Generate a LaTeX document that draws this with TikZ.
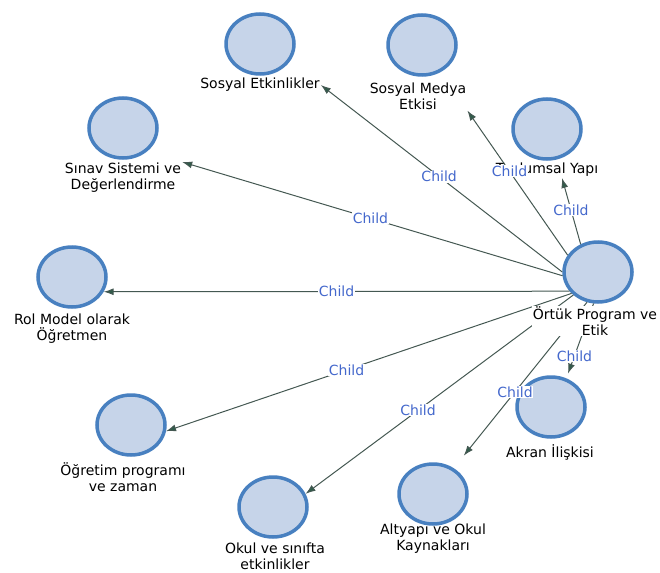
\documentclass[tikz,border=0pt]{standalone}
\usepackage{fontspec}
\setmainfont{DejaVu Sans}
\usetikzlibrary{arrows.meta, shapes.geometric}

\definecolor{bubblefill}{RGB}{198,212,233}
\definecolor{bubbleline}{RGB}{72,128,192}
\definecolor{edgegray}{RGB}{68,88,82}
\definecolor{tipgreen}{RGB}{48,92,74}
\definecolor{childblue}{RGB}{68,104,204}

\begin{document}
\begin{tikzpicture}[x = 1pt, y = -1pt,
	bubble/.style = {ellipse, draw = bubbleline, fill = bubblefill, line width = 3.5pt,
		minimum width = 68pt, minimum height = 60pt, inner sep = 0pt},
	tag/.style = {align = center, text = black, font = \fontsize{14}{16}\selectfont, inner sep = 1pt},
	childedge/.style = {draw = edgegray, line width = 1pt,
		-{Latex[length = 10pt, width = 7pt, fill = tipgreen]}},
	childtag/.style = {fill = white, text = childblue, font = \fontsize{14}{16}\selectfont, inner sep = 0.5pt}]

\useasboundingbox (0, 0) rectangle (660, 572);

	% Bubbles

	\node [bubble] (hub) at (598, 272) {};
	\node [bubble] (se) at (260, 44) {};
	\node [bubble] (sm) at (422, 45) {};
	\node [bubble] (ty) at (547, 129) {};
	\node [bubble] (ss) at (123, 128) {};
	\node [bubble] (rm) at (72, 277) {};
	\node [bubble] (op) at (131, 425) {};
	\node [bubble] (ok) at (273, 507) {};
	\node [bubble] (ao) at (433, 494) {};
	\node [bubble] (ak) at (551, 407) {};

	% Labels

	\node [tag] (selbl) at (260, 85) {Sosyal Etkinlikler};
	\node [tag] (smlbl) at (418, 96) {Sosyal Medya\\Etkisi};
	\node [tag] (tylbl) at (547, 170) {Toplumsal Yapı};
	\node [tag] (sslbl) at (123, 178) {Sınav Sistemi ve\\Değerlendirme};
	\node [tag] (rmlbl) at (72, 329) {Rol Model olarak\\Öğretmen};
	\node [tag] (oplbl) at (123, 477) {Öğretim programı\\ve zaman};
	\node [tag] (oklbl) at (275, 556) {Okul ve sınıfta\\etkinlikler};
	\node [tag] (aolbl) at (433, 539) {Altyapı ve Okul\\Kaynakları};
	\node [tag] (aklbl) at (550, 452) {Akran İlişkisi};

	% Edges

	\draw [childedge] (hub.180) -- node [childtag, pos = 0.51] {Child} (selbl.east);
	\draw [childedge] (hub.151) -- node [childtag, pos = 0.58] {Child} (smlbl.south east);
	\draw [childedge] (hub.122) -- node [childtag, pos = 0.52] {Child} ([xshift = 15pt]tylbl.south);
	\draw [childedge] (hub.186) -- node [childtag, pos = 0.505] {Child} (sslbl.north east);
	\draw [childedge] (hub.214) -- node [childtag, pos = 0.5] {Child} (rm.-25);
	\draw [childedge] (hub.219) -- node [childtag, pos = 0.555] {Child} (op.-10);
	\draw [childedge] (hub.223) -- node [childtag, pos = 0.58] {Child} (ok.22);
	\draw [childedge, shorten >= 16pt] (hub.250) -- node [childtag, pos = 0.54] {Child} (ao);
	\draw [childedge, shorten >= 5pt] (hub.262) -- node [childtag, pos = 0.7] {Child} (ak.62);

	% Hub label

	\node [tag, fill = white] (hublbl) at (595, 321) {Örtük Program ve\\Etik};

\end{tikzpicture}
\end{document}
